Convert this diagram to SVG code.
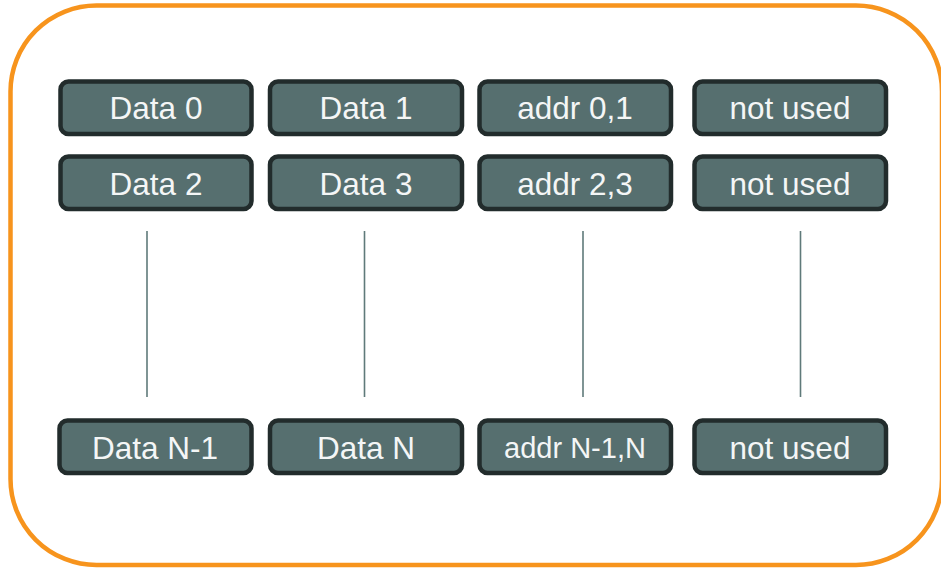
<svg xmlns="http://www.w3.org/2000/svg" width="941" height="569" viewBox="0 0 941 569">
  <style>
    .frame { fill: #ffffff; stroke: #f7941d; stroke-width: 4.5; }
    .cell rect { fill: #566f6f; stroke: #222c2c; stroke-width: 4.5; }
    .cell text { fill: #f4f6f6; font-family: "Liberation Sans", Arial, sans-serif; font-size: 31.5px; text-anchor: middle; }
    .cell text.small { font-size: 29px; }
    .gap { stroke: #5f7a7a; stroke-width: 1.6; fill: none; }
  </style>
  <rect width="941" height="569" fill="#ffffff"/>
  <!-- outer memory frame -->
  <rect class="frame" x="10.5" y="5.5" width="931.5" height="559.5" rx="86" ry="86"/>

  <!-- row 0 -->
  <g id="data0" class="cell"><rect x="60.5" y="81.5" width="191" height="52.5" rx="8"/><text x="156" y="119">Data 0</text></g>
  <g id="data1" class="cell"><rect x="270" y="81.5" width="192" height="52.5" rx="8"/><text x="366" y="119">Data 1</text></g>
  <g id="addr01" class="cell"><rect x="479.5" y="81.5" width="191.5" height="52.5" rx="8"/><text x="575" y="119">addr 0,1</text></g>
  <g id="unused0" class="cell"><rect x="694.5" y="81.5" width="191.5" height="52.5" rx="8"/><text x="790" y="119">not used</text></g>

  <!-- row 1 -->
  <g id="data2" class="cell"><rect x="60.5" y="156.5" width="191" height="52.5" rx="8"/><text x="156" y="194.5">Data 2</text></g>
  <g id="data3" class="cell"><rect x="270" y="156.5" width="192" height="52.5" rx="8"/><text x="366" y="194.5">Data 3</text></g>
  <g id="addr23" class="cell"><rect x="479.5" y="156.5" width="191.5" height="52.5" rx="8"/><text x="575" y="194.5">addr 2,3</text></g>
  <g id="unused1" class="cell"><rect x="694.5" y="156.5" width="191.5" height="52.5" rx="8"/><text x="790" y="194.5">not used</text></g>

  <!-- last row -->
  <g id="dataN1" class="cell"><rect x="59.5" y="420.5" width="192" height="52.5" rx="8"/><text x="155" y="459">Data N-1</text></g>
  <g id="dataN" class="cell"><rect x="270" y="420.5" width="192" height="52.5" rx="8"/><text x="366" y="459">Data N</text></g>
  <g id="addrN" class="cell"><rect x="479.5" y="420.5" width="191.5" height="52.5" rx="8"/><text class="small" x="575" y="458">addr N-1,N</text></g>
  <g id="unusedN" class="cell"><rect x="694.5" y="420.5" width="191.5" height="52.5" rx="8"/><text x="790" y="459">not used</text></g>

  <!-- continuation lines between rows -->
  <g id="connectors">
    <line class="gap" x1="147" y1="231" x2="147" y2="397"/>
    <line class="gap" x1="364.5" y1="231" x2="364.5" y2="397"/>
    <line class="gap" x1="583" y1="231" x2="583" y2="397"/>
    <line class="gap" x1="800.5" y1="231" x2="800.5" y2="397"/>
  </g>
</svg>
